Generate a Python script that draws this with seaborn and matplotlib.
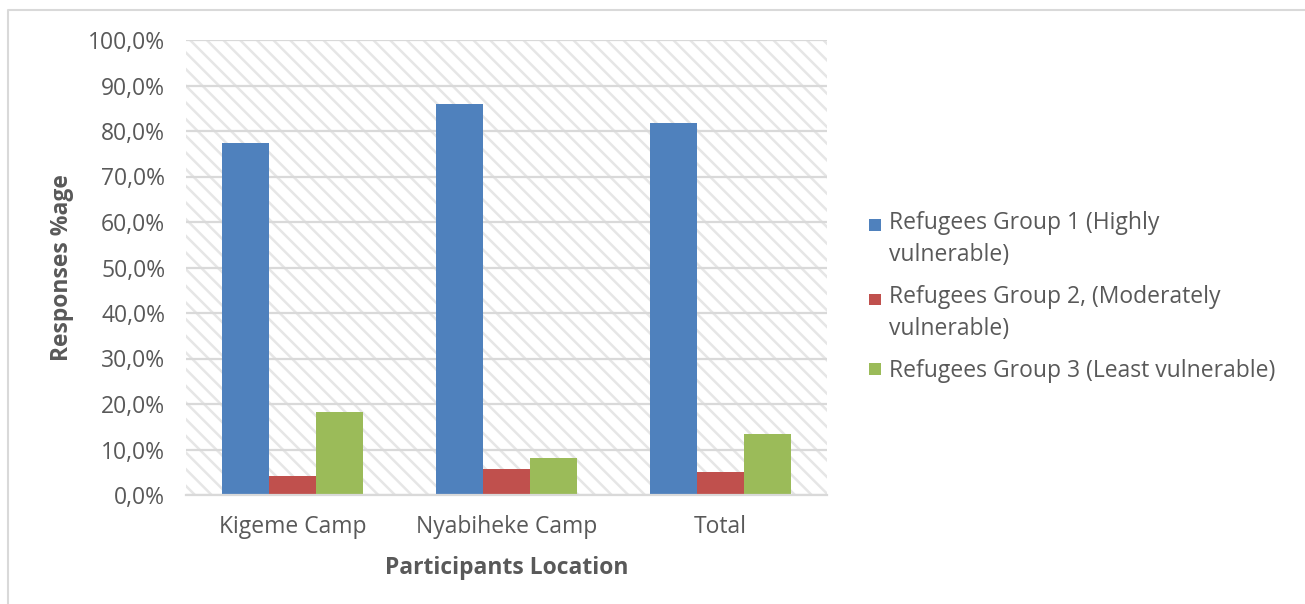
import matplotlib
matplotlib.use("Agg")
import matplotlib.pyplot as plt
from matplotlib.patches import Rectangle
from matplotlib.lines import Line2D
from matplotlib.legend_handler import HandlerPatch
import seaborn as sns
import pandas as pd

locations = ["Kigeme Camp", "Nyabiheke Camp", "Total"]
groups = [
    "Refugees Group 1 (Highly\nvulnerable)",
    "Refugees Group 2, (Moderately\nvulnerable)",
    "Refugees Group 3 (Least vulnerable)",
]
group1 = [77.3, 86.0, 81.7]
group2 = [4.2, 5.7, 5.0]
group3 = [18.3, 8.2, 13.4]
y_ticks = [0, 10, 20, 30, 40, 50, 60, 70, 80, 90, 100]
colors = ["#4F81BD", "#C0504D", "#9BBB59"]

rows = []
for g, vals in zip(groups, [group1, group2, group3]):
    for loc, v in zip(locations, vals):
        rows.append({"Location": loc, "Group": g, "Value": v})
df = pd.DataFrame(rows)

sns.set_theme(style="white")
plt.rcParams["font.family"] = ["Open Sans", "DejaVu Sans"]
plt.rcParams["hatch.linewidth"] = 1.8
text_color = "#595959"
grid_color = "#d9d9d9"
fs = 16.5

fig = plt.figure(figsize=(13.05, 6.04), dpi=100)
ax = fig.add_axes([186 / 1305, 1 - 495 / 604, (827 - 186) / 1305, (495 - 40) / 604])

# hatched plot-area background
bg = Rectangle((0, 0), 1, 1, transform=ax.transAxes, facecolor="white",
               edgecolor="#e6e6e6", linewidth=0, hatch="\\\\", zorder=0.1)
ax.add_patch(bg)

sns.barplot(data=df, x="Location", y="Value", hue="Group", ax=ax,
            palette=colors, width=0.66, saturation=1,
            edgecolor="none", linewidth=0)
for p in ax.patches:
    if p is not bg:
        p.set_zorder(2)

ax.set_ylim(0, 100)
ax.set_xlim(-0.5, 2.5)
ax.set_yticks(y_ticks)
ax.set_yticklabels([f"{t},0%" for t in y_ticks])
ax.set_axisbelow(True)
ax.yaxis.grid(True, color=grid_color, linewidth=1.6, zorder=0.5)
ax.xaxis.grid(False)
for s in ["top", "right", "left"]:
    ax.spines[s].set_visible(False)
ax.spines["bottom"].set_color(grid_color)
ax.spines["bottom"].set_linewidth(1.6)
ax.tick_params(axis="both", length=0, labelsize=fs, colors=text_color)
ax.tick_params(axis="y", pad=15)
ax.tick_params(axis="x", pad=14.5)

ax.set_xlabel("Participants Location", fontsize=fs, fontweight="bold",
              color=text_color, labelpad=12)
ax.set_ylabel("Responses %age", fontsize=fs, fontweight="bold",
              color=text_color, labelpad=10)

handles, labels = ax.get_legend_handles_labels()
if ax.legend_:
    ax.legend_.remove()


def square_at(shift):
    def make(legend, orig_handle, xdescent, ydescent, width, height, fontsize):
        s = 8.6
        return Rectangle((-xdescent, -ydescent + (height - s) / 2 + shift), s, s)
    return make


hmap = {}
for h, lab in zip(handles, labels):
    hmap[h] = HandlerPatch(patch_func=square_at(10.4 if "\n" in lab else 0))

leg = fig.legend(handles, labels, loc="center left", handler_map=hmap,
                 bbox_to_anchor=(848 / 1305, 1 - 297 / 604), frameon=False,
                 fontsize=fs, handlelength=0.52, handleheight=0.6,
                 handletextpad=0.35, labelspacing=0.8, labelcolor=text_color)
for t in leg.get_texts():
    t.set_linespacing(1.45)

# chart-area border
fig.add_artist(Line2D([8 / 1305, 8 / 1305, 1.01], [-0.01, 1 - 10 / 604, 1 - 10 / 604],
                      color=grid_color, linewidth=1.5, transform=fig.transFigure))

fig.savefig("out.png", dpi=100)
